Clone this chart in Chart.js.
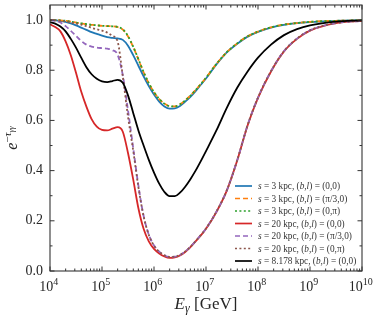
<!DOCTYPE html>
<html>
<head>
<meta charset="utf-8">
<script src="https://cdn.jsdelivr.net/npm/chart.js@4.4.1/dist/chart.umd.min.js"></script>
<style>
html, body { margin: 0; padding: 0; background: #fff; }
canvas { display: block; }
</style>
</head>
<body>
<canvas id="tauChart" width="381" height="320"></canvas>
<script>
// log10(E_gamma / GeV)
const logE = [4.0, 4.1, 4.2, 4.3, 4.4, 4.5, 4.6, 4.7, 4.8, 4.9,
              5.0, 5.1, 5.2, 5.3, 5.4, 5.5, 5.6, 5.7, 5.8, 5.9,
              6.0, 6.1, 6.2, 6.3, 6.4, 6.5, 6.6, 6.7, 6.8, 6.9,
              7.0, 7.2, 7.4, 7.6, 7.8, 8.0, 8.25, 8.5, 8.75, 9.0, 9.5, 10.0];

const s3_00 = [1.000, 0.999, 0.997, 0.993, 0.987, 0.979, 0.970, 0.961, 0.952, 0.945,
               0.938, 0.932, 0.929, 0.927, 0.921, 0.898, 0.860, 0.818, 0.776, 0.737,
               0.703, 0.675, 0.656, 0.647, 0.648, 0.658, 0.675, 0.694, 0.717, 0.742,
               0.767, 0.823, 0.871, 0.905, 0.934, 0.953, 0.970, 0.981, 0.988, 0.992, 0.997, 0.999];
const s3_pi3 = [1.000, 1.000, 0.999, 0.997, 0.994, 0.990, 0.986, 0.983, 0.981, 0.979,
                0.977, 0.976, 0.975, 0.972, 0.962, 0.935, 0.893, 0.843, 0.792, 0.748,
                0.712, 0.685, 0.667, 0.657, 0.656, 0.664, 0.680, 0.699, 0.721, 0.745,
                0.770, 0.825, 0.872, 0.907, 0.935, 0.954, 0.971, 0.982, 0.988, 0.993, 0.997, 0.999];
const s3_0pi = [1.000, 1.000, 0.999, 0.997, 0.994, 0.990, 0.987, 0.984, 0.981, 0.979,
                0.977, 0.976, 0.975, 0.973, 0.963, 0.936, 0.894, 0.844, 0.793, 0.749,
                0.713, 0.686, 0.667, 0.657, 0.656, 0.664, 0.680, 0.699, 0.721, 0.745,
                0.770, 0.825, 0.872, 0.907, 0.935, 0.954, 0.971, 0.982, 0.988, 0.993, 0.997, 0.999];
const s20_00 = [0.983, 0.972, 0.955, 0.915, 0.860, 0.790, 0.715, 0.655, 0.605, 0.575,
                0.562, 0.560, 0.567, 0.573, 0.555, 0.470, 0.365, 0.250, 0.168, 0.118,
                0.088, 0.070, 0.058, 0.052, 0.054, 0.062, 0.076, 0.095, 0.118, 0.142,
                0.168, 0.235, 0.320, 0.440, 0.580, 0.690, 0.795, 0.875, 0.925, 0.958, 0.988, 0.997];
const s20_pi3 = [1.000, 0.997, 0.990, 0.976, 0.957, 0.937, 0.917, 0.902, 0.894, 0.890,
                 0.888, 0.886, 0.880, 0.862, 0.780, 0.640, 0.490, 0.340, 0.220, 0.145,
                 0.102, 0.077, 0.063, 0.056, 0.057, 0.064, 0.078, 0.096, 0.119, 0.143,
                 0.169, 0.236, 0.321, 0.441, 0.581, 0.691, 0.796, 0.876, 0.926, 0.959, 0.988, 0.997];
const s20_0pi = [1.000, 0.999, 0.997, 0.994, 0.990, 0.986, 0.982, 0.976, 0.969, 0.963,
                 0.958, 0.950, 0.937, 0.915, 0.775, 0.615, 0.480, 0.335, 0.218, 0.144,
                 0.101, 0.077, 0.063, 0.056, 0.057, 0.064, 0.078, 0.096, 0.119, 0.143,
                 0.169, 0.236, 0.321, 0.441, 0.581, 0.691, 0.796, 0.876, 0.926, 0.959, 0.988, 0.997];
const s8_00 = [0.992, 0.986, 0.974, 0.955, 0.925, 0.890, 0.850, 0.812, 0.784, 0.766,
               0.756, 0.753, 0.757, 0.762, 0.750, 0.700, 0.630, 0.560, 0.500, 0.443,
               0.392, 0.348, 0.315, 0.298, 0.298, 0.312, 0.336, 0.366, 0.400, 0.438,
               0.478, 0.560, 0.650, 0.730, 0.795, 0.850, 0.902, 0.940, 0.964, 0.979, 0.994, 0.999];

const seriesLabels = [
  's = 3 kpc, (b,l) = (0,0)',
  's = 3 kpc, (b,l) = (\u03C0/3,0)',
  's = 3 kpc, (b,l) = (0,\u03C0)',
  's = 20 kpc, (b,l) = (0,0)',
  's = 20 kpc, (b,l) = (\u03C0/3,0)',
  's = 20 kpc, (b,l) = (0,\u03C0)',
  's = 8.178 kpc, (b,l) = (0,0)'
];
const xTicks = [4, 5, 6, 7, 8, 9, 10];
const yTicks = [0, 0.2, 0.4, 0.6, 0.8, 1.0];
const yMinor = [0.1, 0.3, 0.5, 0.7, 0.9];

const serif = '"Liberation Serif", "DejaVu Serif", serif';
const ink = '#262626';

function pts(ys) {
  return ys.map((y, i) => ({ x: logE[i], y: y }));
}

const styles = [
  { color: '#1f77b4', dash: [] },
  { color: '#ff7f0e', dash: [5, 3] },
  { color: '#2ca02c', dash: [2, 2.4] },
  { color: '#d62728', dash: [] },
  { color: '#9467bd', dash: [5, 3] },
  { color: '#8c564b', dash: [2, 2.4] },
  { color: '#000000', dash: [] }
];
const allSeries = [s3_00, s3_pi3, s3_0pi, s20_00, s20_pi3, s20_0pi, s8_00];

const datasets = allSeries.map((ys, i) => ({
  label: seriesLabels[i],
  data: pts(ys),
  borderColor: styles[i].color,
  borderDash: styles[i].dash,
  borderWidth: 1.8,
  pointRadius: 0,
  fill: false,
  cubicInterpolationMode: 'monotone',
  order: allSeries.length - i
}));

// draw a run of text pieces [text, font, dy], returns end x
function drawRuns(ctx, runs, x, y) {
  let cx = x;
  runs.forEach(r => {
    ctx.font = r[1];
    ctx.fillText(r[0], cx, y + (r[2] || 0));
    cx += ctx.measureText(r[0]).width;
  });
  return cx;
}
function runsWidth(ctx, runs) {
  let w = 0;
  runs.forEach(r => { ctx.font = r[1]; w += ctx.measureText(r[0]).width; });
  return w;
}
function legendRuns(text, size) {
  const up = size + 'px ' + serif;
  const it = 'italic ' + size + 'px ' + serif;
  const runs = [];
  let buf = '';
  for (const ch of text) {
    if (ch === 's' || ch === 'b' || ch === 'l') {
      if (buf) { runs.push([buf, up]); buf = ''; }
      runs.push([ch, it]);
    } else {
      buf += ch;
    }
  }
  if (buf) runs.push([buf, up]);
  return runs;
}

const axesPlugin = {
  id: 'axesPlugin',
  afterDraw(chart) {
    const ctx = chart.ctx;
    const a = chart.chartArea;
    const xs = chart.scales.x;
    const ys = chart.scales.y;
    ctx.save();

    // frame
    ctx.strokeStyle = '#333';
    ctx.lineWidth = 1.1;
    ctx.setLineDash([]);
    ctx.strokeRect(a.left, a.top, a.right - a.left, a.bottom - a.top);

    // inward ticks
    ctx.lineWidth = 1;
    ctx.beginPath();
    yTicks.forEach(v => {
      const y = ys.getPixelForValue(v);
      ctx.moveTo(a.left, y); ctx.lineTo(a.left + 4.5, y);
      ctx.moveTo(a.right, y); ctx.lineTo(a.right - 4.5, y);
    });
    yMinor.forEach(v => {
      const y = ys.getPixelForValue(v);
      ctx.moveTo(a.left, y); ctx.lineTo(a.left + 2.5, y);
      ctx.moveTo(a.right, y); ctx.lineTo(a.right - 2.5, y);
    });
    xTicks.forEach(n => {
      const x = xs.getPixelForValue(n);
      ctx.moveTo(x, a.bottom); ctx.lineTo(x, a.bottom - 4.5);
      ctx.moveTo(x, a.top); ctx.lineTo(x, a.top + 4.5);
      if (n < 10) {
        for (let k = 2; k <= 9; k++) {
          const xm = xs.getPixelForValue(n + Math.log10(k));
          ctx.moveTo(xm, a.bottom); ctx.lineTo(xm, a.bottom - 2.5);
          ctx.moveTo(xm, a.top); ctx.lineTo(xm, a.top + 2.5);
        }
      }
    });
    ctx.stroke();

    // y tick labels
    ctx.fillStyle = ink;
    ctx.font = '14px ' + serif;
    ctx.textAlign = 'right';
    ctx.textBaseline = 'middle';
    yTicks.forEach(v => {
      ctx.fillText(v.toFixed(1), a.left - 7, ys.getPixelForValue(v));
    });

    // x tick labels 10^n
    ctx.textAlign = 'left';
    ctx.textBaseline = 'alphabetic';
    xTicks.forEach(n => {
      const runs = [['10', '14px ' + serif, 0], [String(n), '10px ' + serif, -6.5]];
      const w = runsWidth(ctx, runs);
      drawRuns(ctx, runs, xs.getPixelForValue(n) - w / 2 - 1.3, a.bottom + 20);
    });

    // x axis title
    const xt = [
      ['E', 'italic 17px ' + serif, 0],
      ['\u03B3', 'italic 12px ' + serif, 3.5],
      [' [GeV]', '17px ' + serif, 0]
    ];
    const xw = runsWidth(ctx, xt);
    drawRuns(ctx, xt, (a.left + a.right) / 2 - xw / 2, a.bottom + 37.5);

    // y axis title, rotated
    const yt = [
      ['e', 'italic 16px ' + serif, 0],
      ['\u2212', '11px ' + serif, -6.5],
      ['\u03C4', 'italic 11px ' + serif, -6.5],
      ['\u03B3\u03B3', 'italic 8px ' + serif, -3.5]
    ];
    const yw = runsWidth(ctx, yt);
    ctx.save();
    ctx.translate(17, (a.top + a.bottom) / 2);
    ctx.rotate(-Math.PI / 2);
    drawRuns(ctx, yt, -yw / 2, 0);
    ctx.restore();

    // legend, lower right inside axes
    chart.data.datasets.forEach((ds, i) => {
      const ry = 186 + 12.5 * i;
      ctx.strokeStyle = ds.borderColor;
      ctx.lineWidth = 1.7;
      ctx.setLineDash(ds.borderDash);
      ctx.beginPath();
      ctx.moveTo(235, ry);
      ctx.lineTo(252, ry);
      ctx.stroke();
      ctx.setLineDash([]);
      ctx.fillStyle = '#333';
      drawRuns(ctx, legendRuns(ds.label, 9.3), 258, ry + 3);
    });

    ctx.restore();
  }
};

new Chart(document.getElementById('tauChart'), {
  type: 'line',
  data: { datasets: datasets },
  options: {
    responsive: false,
    animation: false,
    layout: { padding: { left: 50, right: 19, top: 5, bottom: 49 } },
    plugins: { legend: { display: false }, tooltip: { enabled: false } },
    scales: {
      x: { type: 'linear', min: 4, max: 10, display: false },
      y: { type: 'linear', min: 0, max: 1.06, display: false }
    }
  },
  plugins: [axesPlugin]
});
</script>
</body>
</html>
